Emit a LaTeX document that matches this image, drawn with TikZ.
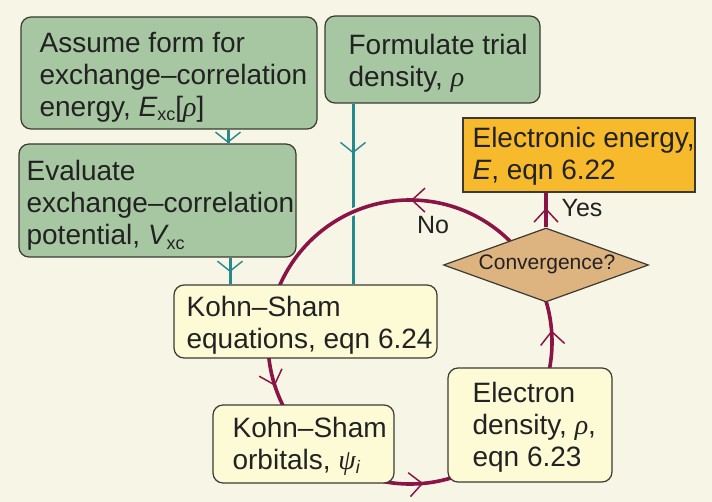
\documentclass[tikz,border=0pt]{standalone}
\usepackage{fontspec}
\setmainfont{Liberation Sans}
\newfontfamily\grk{Liberation Serif}
\usetikzlibrary{arrows.meta,decorations.markings,shapes.geometric}
\pgfdeclarelayer{bg}
\pgfsetlayers{bg,main}
\definecolor{bgc}{HTML}{F7F5E6}
\definecolor{greenc}{HTML}{A7C7A2}
\definecolor{yellowc}{HTML}{FDFAD6}
\definecolor{orangec}{HTML}{F7BA2D}
\definecolor{tanc}{HTML}{DDB380}
\definecolor{bordc}{HTML}{3A3A32}
\definecolor{tealc}{HTML}{25898E}
\definecolor{magc}{HTML}{8A1445}
\definecolor{textc}{HTML}{222222}
\newcommand{\lowtxt}[1]{\raisebox{-0.3ex}{\fontsize{18}{18}\selectfont #1}}
\newcommand{\grrho}{{\grk\itshape ρ}}
\newcommand{\grpsi}{{\grk\itshape ψ}}
\begin{document}
\begin{tikzpicture}[x=1pt,y=-1pt,
  font=\fontsize{28}{32}\selectfont,
  gbox/.style={draw=bordc, line width=1.2pt, fill=greenc, rounded corners=10pt, inner sep=0pt},
  ybox/.style={gbox, fill=yellowc},
  txt/.style={inner sep=0pt, align=left, text=textc, anchor=west},
  tealln/.style={draw=tealc, line width=3pt},
  magln/.style={draw=magc, line width=3.6pt},
  tbarb/.style={postaction={decorate}, decoration={markings, mark=at position #1 with {\arrow{Straight Barb[length=10pt,width=25pt,line width=1.4pt]}}}},
  mbarb/.style={postaction={decorate}, decoration={markings, mark=at position #1 with {\arrow{Straight Barb[length=13pt,width=24pt,line width=1.5pt]}}}},
  lbl/.style={inner sep=0pt, text=textc, font=\fontsize{25}{28}\selectfont}
]
\begin{pgfonlayer}{bg}
\fill[bgc] (0,0) rectangle (712,502);
\end{pgfonlayer}
\useasboundingbox (0,0) rectangle (712,502);

% boxes
\node[gbox, minimum width=296pt, minimum height=112pt] (A) at (169,73) {};
\node[gbox, minimum width=277pt, minimum height=113pt] (B) at (157.5,200.5) {};
\node[gbox, minimum width=215pt, minimum height=87pt] (C) at (432.5,59.5) {};
\node[draw=bordc, line width=1.2pt, fill=orangec, inner sep=0pt, minimum width=232pt, minimum height=74pt] (D) at (579,155) {};
\node[ybox, minimum width=263pt, minimum height=73pt] (E) at (305.5,321.5) {};
\node[ybox, minimum width=181pt, minimum height=78pt] (F) at (303.5,444) {};
\node[ybox, minimum width=164pt, minimum height=114pt] (G) at (530,425) {};
\node[diamond, draw=bordc, line width=1.2pt, fill=tanc, inner sep=0pt, shape aspect=2.77,
      minimum width=205pt, minimum height=74pt] (dia) at (546,265) {};

% texts
\node[txt] (At) at ([shift={(19,4)}]A.west) {Assume form for\\exchange–correlation\\energy, {\itshape E}\lowtxt{xc}[\grrho]};
\node[txt] (Bt) at ([shift={(8,5)}]B.west) {Evaluate\\exchange–correlation\\potential, {\itshape V}\lowtxt{xc}};
\node[txt] (Ct) at ([shift={(24,4)}]C.west) {Formulate trial\\density, \grrho};
\node[txt] (Dt) at ([shift={(10,1)}]D.west) {Electronic energy,\\{\itshape E}, eqn 6.22};
\node[txt] (Et) at ([shift={(13,4)}]E.west) {Kohn–Sham\\equations, eqn 6.24};
\node[txt] (Ft) at ([shift={(20,2)}]F.west) {Kohn–Sham\\orbitals, \grpsi\lowtxt{\itshape i}};
\node[txt] (Gt) at ([shift={(25,2)}]G.west) {Electron\\density, \grrho,\\eqn 6.23};
\node[inner sep=0pt, text=textc, font=\fontsize{21}{24}\selectfont] (diat) at (547,264) {Convergence?};
\node[lbl] (yes) at (582,208) {Yes};
\node[lbl] (no) at (433,225) {No};

% connector x positions
\coordinate (ab) at (228,0);
\coordinate (be) at (230,0);
\coordinate (ce) at (353,0);
\coordinate (O) at (410,342);

\begin{pgfonlayer}{bg}
\draw[tealln, tbarb=0.97] (A.south -| ab) -- (B.north -| ab);
\draw[tealln, tbarb=0.54] (B.south -| be) -- (E.north -| be);
\draw[tealln, tbarb=0.275] (C.south -| ce) -- (E.north -| ce);
\draw[magln, mbarb=0.556] (dia.north) -- (D.south -| dia.north);
\draw[magln, preaction={draw=bgc, line width=7.5pt},
  postaction={decorate},
  decoration={markings,
    mark=at position 0.05 with {\arrow{Straight Barb[length=13pt,width=24pt,line width=1.5pt]}},
    mark=at position 0.265 with {\arrow{Straight Barb[length=13pt,width=24pt,line width=1.5pt]}},
    mark=at position 0.513 with {\arrow{Straight Barb[length=13pt,width=24pt,line width=1.5pt]}},
    mark=at position 0.749 with {\arrow{Straight Barb[length=13pt,width=24pt,line width=1.5pt]}}}]
  (O) ++(180:142) arc[start angle=180, end angle=-180, radius=142];
\end{pgfonlayer}
\end{tikzpicture}
\end{document}
